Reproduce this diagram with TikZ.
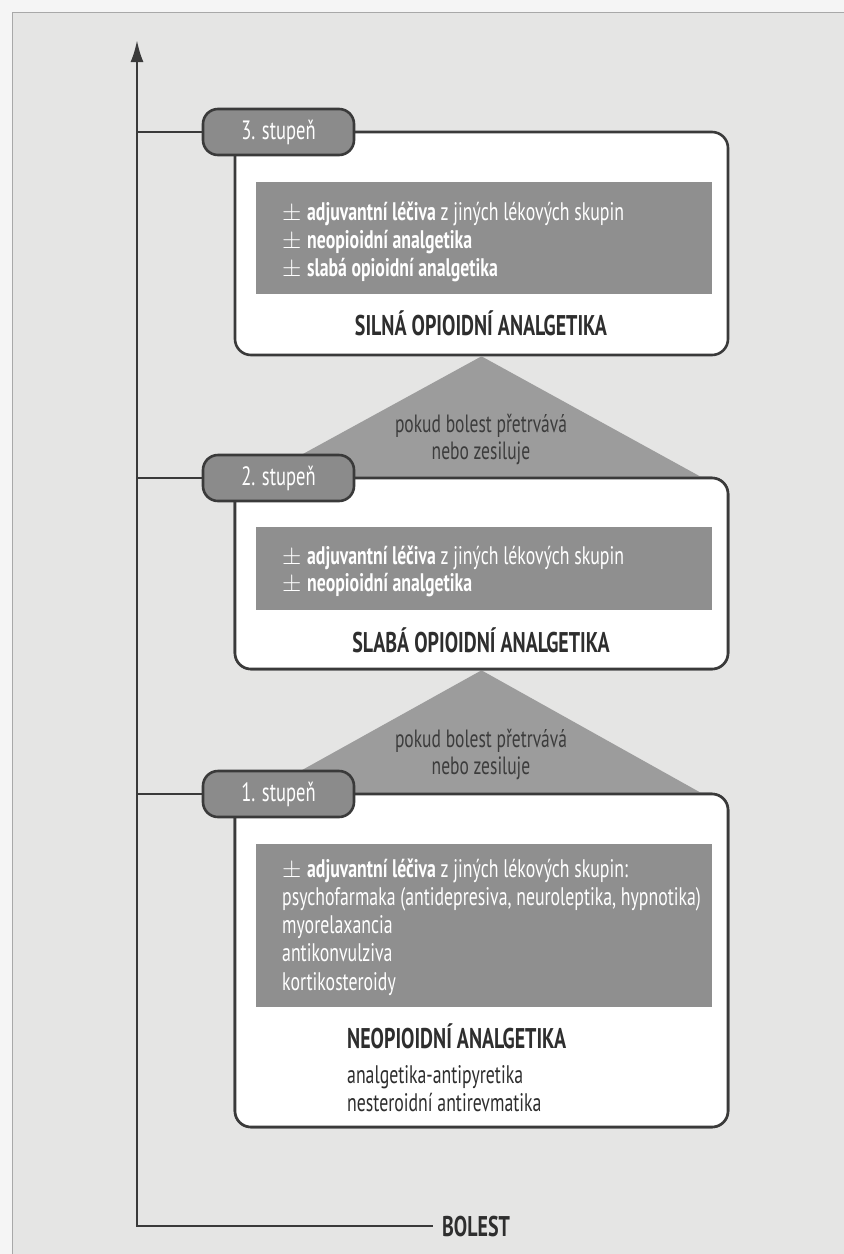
\documentclass[tikz,border=0pt]{standalone}
\usepackage{fontspec}
\setmainfont{PT Sans}[FakeStretch=0.70]
\usetikzlibrary{arrows.meta}
\definecolor{outerC}{HTML}{F5F5F5}
\definecolor{panelC}{HTML}{E5E5E4}
\definecolor{borderC}{HTML}{A8A8A8}
\definecolor{lineC}{HTML}{3A3A3A}
\definecolor{tabC}{HTML}{8B8B8B}
\definecolor{grayC}{HTML}{8F8F8F}
\definecolor{triC}{HTML}{9C9C9C}
\definecolor{headC}{HTML}{2E2E2E}
\definecolor{triT}{HTML}{3C3C3C}
\newcommand{\pmsign}{\ensuremath{\pm}\hspace{0.22em}}
\tikzset{
  ln/.style={draw=lineC, line width=2.6pt},
  stepbox/.style={draw=lineC, line width=2.6pt, fill=white, rounded corners=16pt, minimum width=493pt, inner sep=0pt},
  tab/.style={draw=lineC, line width=2.6pt, fill=tabC, rounded corners=15pt, minimum width=151pt, minimum height=46pt, text=white, font=\fontsize{26.5}{28}\selectfont, inner sep=0pt},
  graybox/.style={fill=grayC, minimum width=456pt, inner sep=0pt},
  gtxt/.style={text=white, anchor=base west, inner sep=0pt, font=\fontsize{25.4}{28}\selectfont},
  head/.style={text=headC, anchor=base, inner sep=0pt, font=\bfseries\fontsize{28.5}{30}\selectfont},
  btxt/.style={text=headC, anchor=base west, inner sep=0pt, font=\fontsize{25.4}{28}\selectfont},
  tri/.style={fill=triC},
  tritext/.style={text=triT, anchor=base, inner sep=0pt, font=\fontsize{25}{27}\selectfont},
}
\begin{document}
\begin{tikzpicture}[x=1pt,y=-1pt]
\useasboundingbox (0,0) rectangle (844,1254);
\fill[outerC] (0,0) rectangle (844,1254);
\filldraw[fill=panelC, draw=borderC, line width=1pt] (12,12) rectangle (860,1270);

% axis
\coordinate (top) at (137,40);
\coordinate (origin) at (137,1226);
\coordinate (xend) at (433,1226);
\draw[ln, line join=miter, {Latex[length=22pt,width=13pt]}-] (top) -- (origin) -- (xend);
\node[text=headC, anchor=base west, inner sep=0pt, font=\bfseries\fontsize{28.5}{30}\selectfont] (bolest) at (442,1236) {BOLEST};

% boxes
\node[stepbox, minimum height=223pt] (box3) at (481.5,243.5) {};
\node[stepbox, minimum height=191pt] (box2) at (481.5,573.5) {};
\node[stepbox, minimum height=333pt] (box1) at (481.5,960.5) {};

% triangles
\coordinate (t1l) at (259,478);
\coordinate (t1r) at (703,478);
\coordinate (t2l) at (259,794);
\coordinate (t2r) at (703,794);
\fill[tri] (box3.south) -- (t1r) -- (t1l) -- cycle;
\fill[tri] (box2.south) -- (t2r) -- (t2l) -- cycle;
\node[tritext] (tt1a) at (481,432.5) {pokud bolest přetrvává};
\node[tritext] (tt1b) at (481,459.5) {nebo zesiluje};
\node[tritext] (tt2a) at (481,747.5) {pokud bolest přetrvává};
\node[tritext] (tt2b) at (481,774.5) {nebo zesiluje};

% redraw boxes over triangle bases
\node[stepbox, minimum height=191pt] at (481.5,573.5) {};
\node[stepbox, minimum height=333pt] at (481.5,960.5) {};

% tabs and connectors
\node[tab] (tab3) at (278.5,132) {3. stupeň};
\node[tab] (tab2) at (278.5,478) {2. stupeň};
\node[tab] (tab1) at (278.5,794) {1. stupeň};
\coordinate (ax3) at (137,132);
\coordinate (ax2) at (137,478);
\coordinate (ax1) at (137,794);
\draw[ln] (ax3) -- (tab3.west);
\draw[ln] (ax2) -- (tab2.west);
\draw[ln] (ax1) -- (tab1.west);

% gray panels
\node[graybox, minimum height=112pt] (g3) at (484,238) {};
\node[graybox, minimum height=83pt] (g2) at (484,568.5) {};
\node[graybox, minimum height=163pt] (g1) at (484,925.5) {};

\node[gtxt] (g3a) at (282,220) {\pmsign\textbf{adjuvantní léčiva} z jiných lékových skupin};
\node[gtxt] (g3b) at (282,248) {\pmsign\textbf{neopioidní analgetika}};
\node[gtxt] (g3c) at (282,276) {\pmsign\textbf{slabá opioidní analgetika}};

\node[gtxt] (g2a) at (282,564) {\pmsign\textbf{adjuvantní léčiva} z jiných lékových skupin};
\node[gtxt] (g2b) at (282,591) {\pmsign\textbf{neopioidní analgetika}};

\node[gtxt] (g1a) at (282,877) {\pmsign\textbf{adjuvantní léčiva} z jiných lékových skupin:};
\node[gtxt] (g1b) at (282,905) {psychofarmaka (antidepresiva, neuroleptika, hypnotika)};
\node[gtxt] (g1c) at (282,933) {myorelaxancia};
\node[gtxt] (g1d) at (282,961) {antikonvulziva};
\node[gtxt] (g1e) at (282,990) {kortikosteroidy};

% headings
\node[head] (h3) at (481,335) {SILNÁ OPIOIDNÍ ANALGETIKA};
\node[head] (h2) at (481,652) {SLABÁ OPIOIDNÍ ANALGETIKA};
\node[head, anchor=base west] (h1) at (347,1048) {NEOPIOIDNÍ ANALGETIKA};
\node[btxt] (b1a) at (347,1083.5) {analgetika-antipyretika};
\node[btxt] (b1b) at (347,1111.5) {nesteroidní antirevmatika};
\end{tikzpicture}
\end{document}
